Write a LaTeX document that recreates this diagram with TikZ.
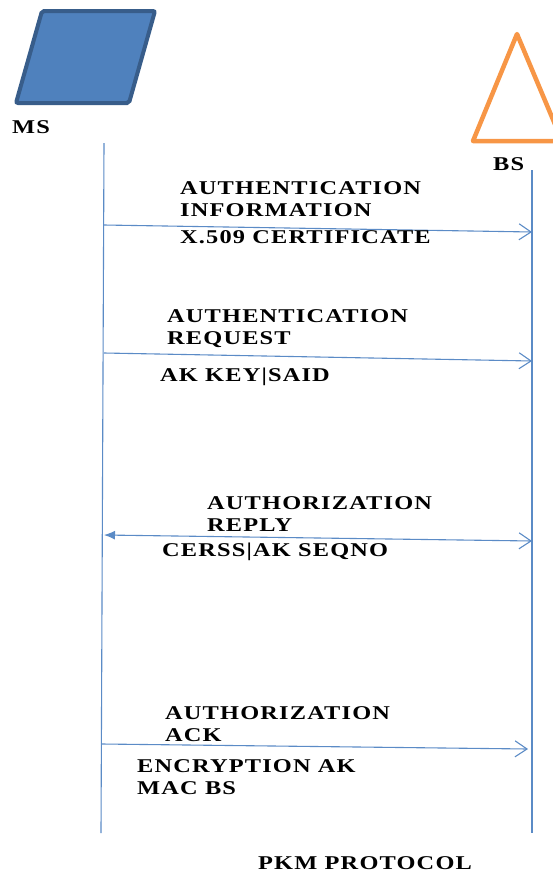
\documentclass[tikz,border=0pt]{standalone}
\usepackage{fontspec}
\setmainfont{Liberation Serif}[FakeStretch=1.25, LetterSpace=6]
\usetikzlibrary{arrows.meta}

\definecolor{msblue}{HTML}{4F81BD}
\definecolor{msedge}{HTML}{385D8A}
\definecolor{bsorange}{HTML}{F79646}
\definecolor{lineblue}{HTML}{5B8BC6}

\tikzset{
    lifeline/.style={draw=lineblue, line width=1.1pt},
    msg/.style={lineblue, line width=1.1pt, -{Straight Barb[length=12pt,width=16pt]}},
    lbl/.style={anchor=north west, inner sep=0pt, align=left, font=\bfseries\fontsize{19.5}{22}\selectfont}
}

\begin{document}
\begin{tikzpicture}[x=1pt,y=-1pt]

\useasboundingbox (0,0) rectangle (553,876);

% stations
\draw[fill=msblue, draw=msedge, line width=4pt, rounded corners=2pt]
    (42,11) -- (155,11) -- (129,103) -- (16,103) -- cycle;
\node[lbl] (ms) at (12,120) {MS};

\begin{scope}
    \clip (0,0) rectangle (553,876);
    \draw[bsorange, line width=4.5pt, line join=round] (517,34) -- (562,141) -- (473,141) -- cycle;
\end{scope}
\node[lbl] (bs) at (493,157) {BS};

% lifelines
\coordinate (mstop) at (104,143);
\coordinate (msbot) at (101,833);
\coordinate (bstop) at (532,170);
\coordinate (bsbot) at (532,833);
\draw[lifeline] (mstop) -- (msbot);
\draw[lifeline] (bstop) -- (bsbot);

% messages
\coordinate (a1) at (104,225);
\coordinate (b1) at (532,232);
\draw[msg] (a1) -- (b1);
\node[lbl] (info) at (180,181) {AUTHENTICATION\\INFORMATION};
\node[lbl] (cert) at (180,230) {X.509 CERTIFICATE};

\coordinate (a2) at (104,353);
\coordinate (b2) at (532,361);
\draw[msg] (a2) -- (b2);
\node[lbl] (req) at (167,309) {AUTHENTICATION\\REQUEST};
\node[lbl] (said) at (160,368) {AK KEY|SAID};

\coordinate (a3) at (104,535);
\coordinate (b3) at (532,541);
\draw[msg, {Latex[length=11pt,width=9pt]}-{Straight Barb[length=12pt,width=16pt]}] (a3) -- (b3);
\node[lbl] (reply) at (207,496) {AUTHORIZATION\\REPLY};
\node[lbl] (seq) at (162,543) {CERSS|AK SEQNO};

\coordinate (a4) at (102,744);
\coordinate (b4) at (528,749);
\draw[msg] (a4) -- (b4);
\node[lbl] (ack) at (165,706) {AUTHORIZATION\\ACK};
\node[lbl] (mac) at (137,759) {ENCRYPTION AK\\MAC BS};

\node[lbl] (pkm) at (258,856) {PKM PROTOCOL};

\end{tikzpicture}
\end{document}
